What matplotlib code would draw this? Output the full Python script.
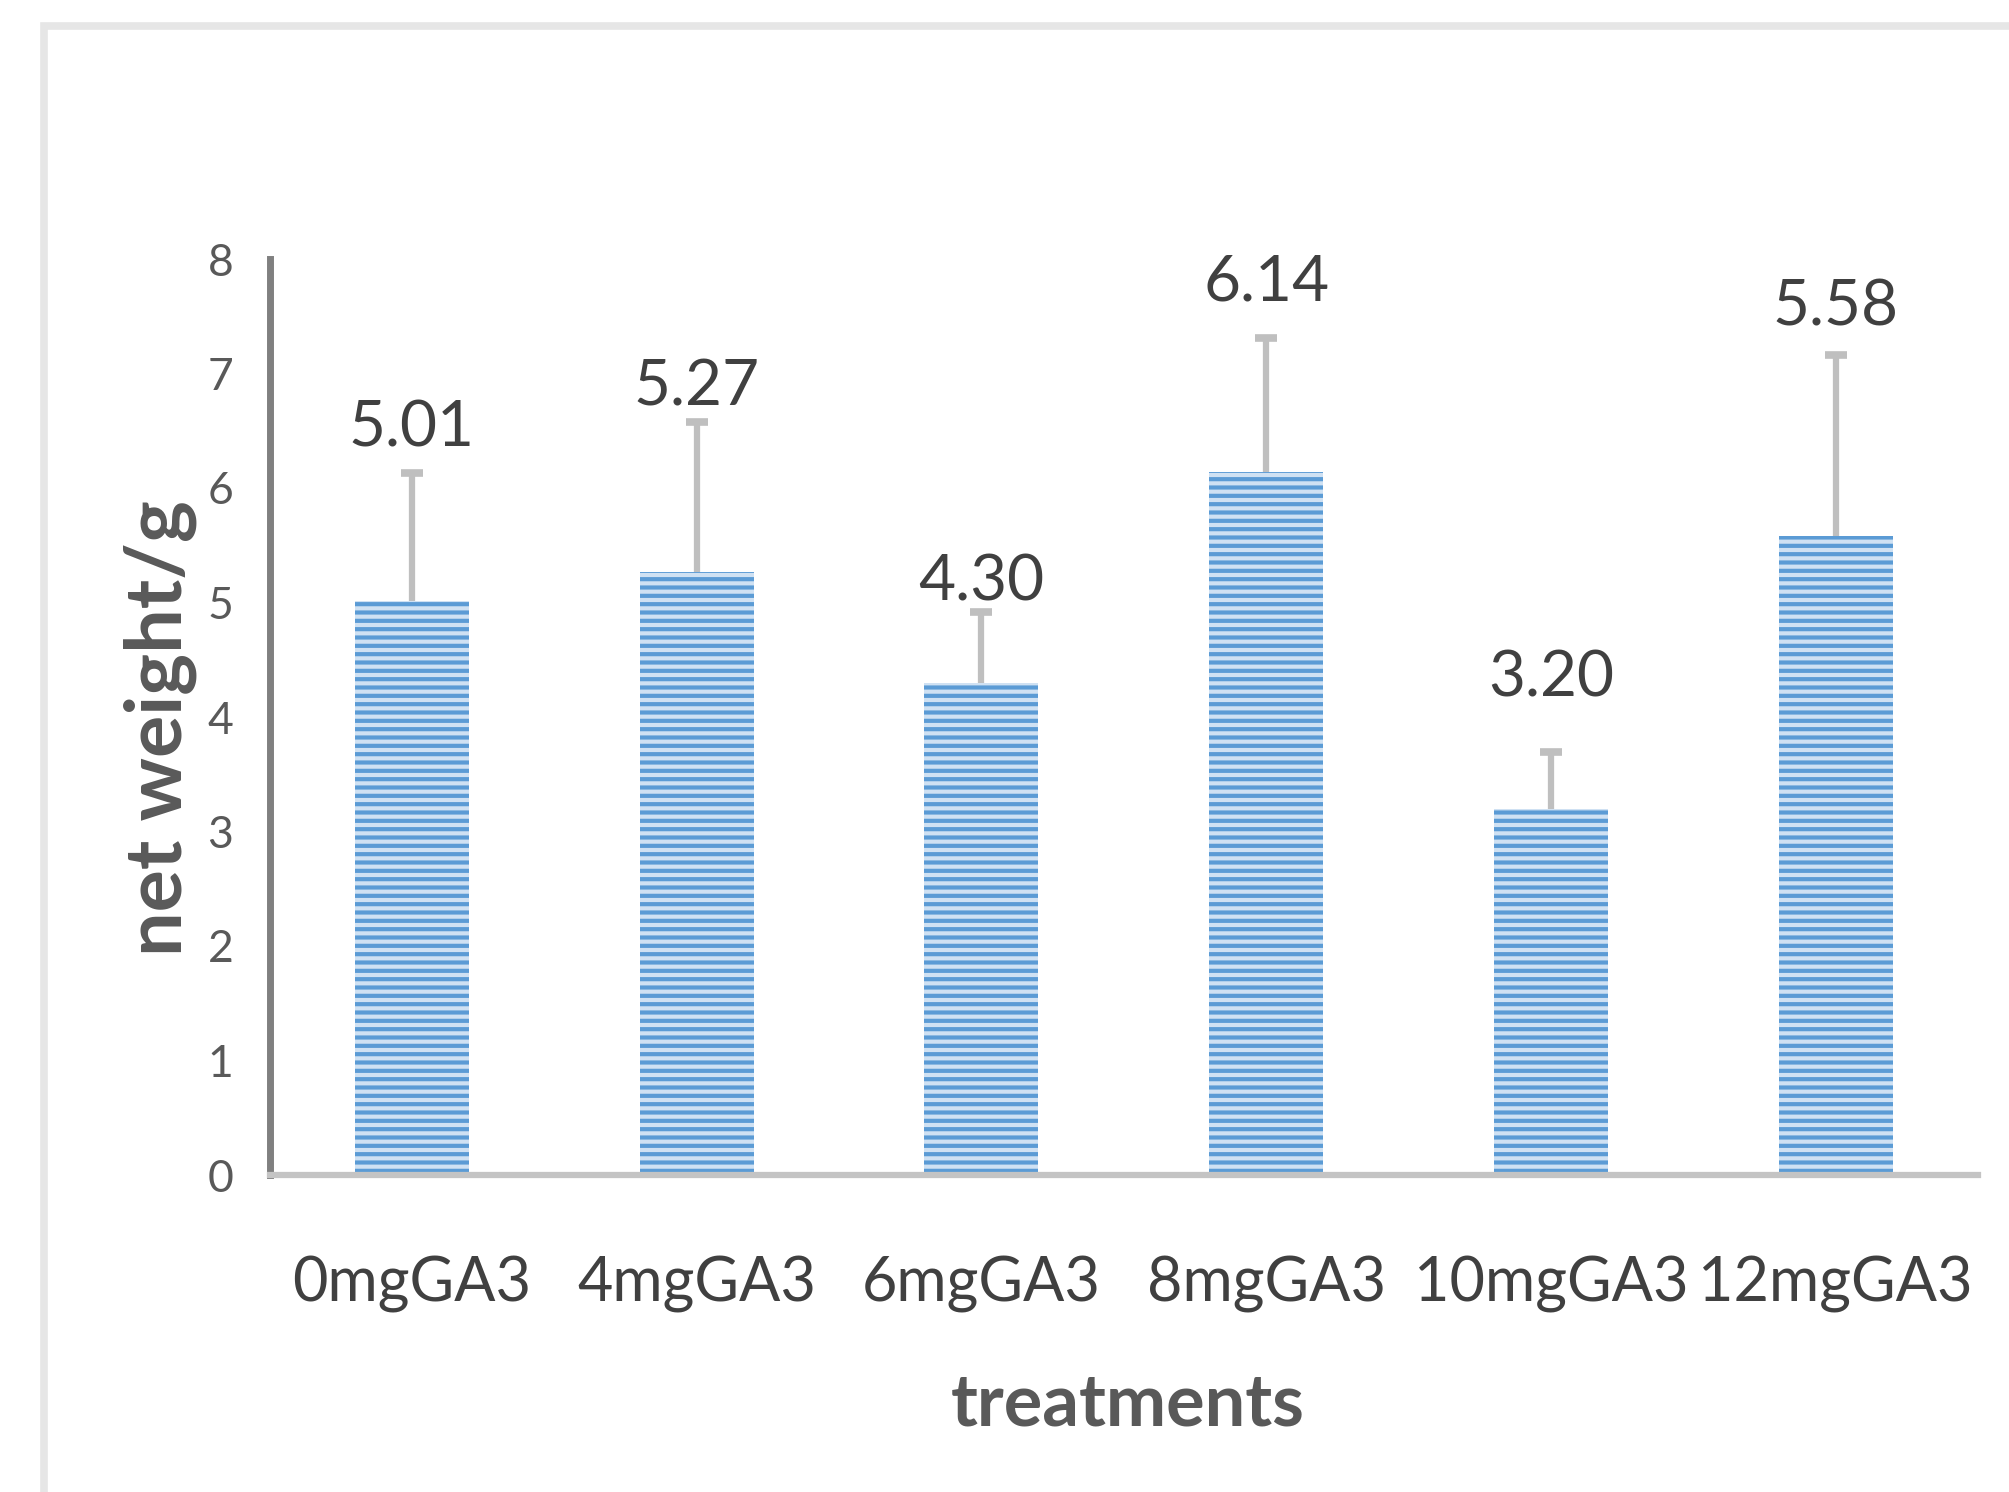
import numpy as np
import matplotlib
matplotlib.use("Agg")
import matplotlib.pyplot as plt
from matplotlib.lines import Line2D

# 데이터
treatments = ["0mgGA3", "4mgGA3", "6mgGA3", "8mgGA3", "10mgGA3", "12mgGA3"]
net_weight = [5.01, 5.27, 4.30, 6.14, 3.20, 5.58]
err_up = [1.12, 1.31, 0.62, 1.17, 0.49, 1.58]
label_y = [6.36, 6.72, 5.02, 7.64, 4.18, 7.42]   # 값 라벨 기준선 위치
y_ticks = [0, 1, 2, 3, 4, 5, 6, 7, 8]

plt.rcParams['font.family'] = ['Lato', 'DejaVu Sans']
plt.rcParams['hatch.linewidth'] = 3.0

W, H = 2009, 1492
fig = plt.figure(figsize=(W / 100, H / 100), dpi=100)
fig.patch.set_facecolor("white")

# 바깥 회색 테두리 (왼쪽, 위쪽만 보임)
fig.add_artist(Line2D([43.5 / W, 43.5 / W, 1.01], [-0.01, 1 - 26 / H, 1 - 26 / H],
                      transform=fig.transFigure, color="#e6e6e6", lw=5.5,
                      solid_joinstyle="miter"))

ax = fig.add_axes([269.5 / W, 1 - 1175 / H, (1978 - 269.5) / W, (1175 - 259) / H])
x = np.arange(len(treatments))

ax.bar(x, net_weight, width=0.4, color="#cfe1f3", edgecolor="#5b9bd5",
       linewidth=0, hatch="--", zorder=2)

eb = ax.errorbar(x, net_weight, yerr=[np.zeros(len(x)), err_up], fmt="none",
                 ecolor="#bfbfbf", elinewidth=4.5, capsize=8, capthick=5.5, zorder=3)
eb[1][0].set_visible(False)

for xi, v, ly in zip(x, net_weight, label_y):
    ax.text(xi, ly, f"{v:.2f}", ha="center", va="baseline",
            fontsize=46, color="#404040")

ax.set_xlim(-0.5, 5.5)
ax.set_ylim(0, 8)
ax.set_yticks(y_ticks)
ax.set_xticks(x)
ax.set_xticklabels(treatments)
ax.tick_params(axis="y", length=0, pad=26, labelsize=32, labelcolor="#595959")
ax.tick_params(axis="x", length=0, pad=58, labelsize=44, labelcolor="#404040")

for s in ["top", "right"]:
    ax.spines[s].set_visible(False)
ax.spines["left"].set_color("#808080")
ax.spines["left"].set_linewidth(5)
ax.spines["bottom"].set_color("#c4c4c4")
ax.spines["bottom"].set_linewidth(4.5)

fig.text(1128 / W, 1 - 1426 / H, "treatments", ha="center", va="baseline",
         fontsize=52, fontweight="bold", color="#595959")
fig.text(160 / W, 1 - 728 / H, "net weight/g", ha="center", va="center",
         rotation=90, fontsize=57, fontweight="bold", color="#595959")

fig.savefig("out.png", dpi=100)
